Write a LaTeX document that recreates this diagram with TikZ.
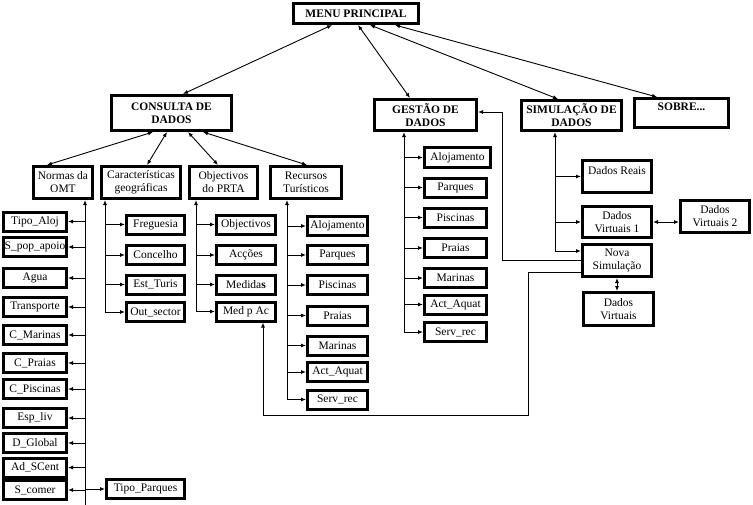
\documentclass[tikz,border=0pt]{standalone}
\usepackage{fontspec}
\setmainfont{Liberation Serif}
\usepackage{tikz}
\usetikzlibrary{arrows.meta}
\tikzstyle{headbox}=[draw,line width=3.2pt,inner sep=1pt,align=center,font=\bfseries\fontsize{11.5}{13}\selectfont]
\tikzstyle{itembox}=[draw,line width=3pt,inner sep=1pt,align=center,font=\fontsize{11.5}{13}\selectfont]
\tikzstyle{link}=[draw,line width=0.9pt,-{Latex[length=5pt,width=4pt]}]
\tikzstyle{twoway}=[draw,line width=0.9pt,{Latex[length=5pt,width=4pt]}-{Latex[length=5pt,width=4pt]}]

\begin{document}
\begin{tikzpicture}[x=1pt,y=-1pt]
    \useasboundingbox (0,0) rectangle (753,504);
    % Main menu and the menus under it
    \node[headbox,minimum width=124.8,minimum height=19.8] (menu) at (356,13.5) {MENU PRINCIPAL};
    \node[headbox,minimum width=119.8,minimum height=34.8] (consulta) at (171.5,113) {CONSULTA DE\\DADOS};
    \node[headbox,minimum width=101.8,minimum height=30.8] (gestao) at (425.5,115) {GESTÃO DE\\DADOS};
    \node[headbox,minimum width=99.8,minimum height=29.8] (simul) at (571.5,115.5) {SIMULAÇÃO DE\\DADOS};
    \node[headbox,minimum width=93.8,minimum height=28.8,text depth=12pt] (sobre) at (681.5,113) {SOBRE...};
    \path[twoway] ([xshift=-24pt]menu.south) -- ([xshift=11.5pt]consulta.north);
    \path[twoway] ([xshift=2pt]menu.south) -- ([xshift=-15.5pt]gestao.north);
    \path[twoway] ([xshift=14pt]menu.south) -- ([xshift=-13.5pt]simul.north);
    \path[twoway] ([xshift=39pt]menu.south) -- ([xshift=-24.5pt]sobre.north);

    % Consulta de dados
    \foreach \pos/\w/\name/\txt in {{(63,182.5)/59/normas/Normas da\\OMT}, {(141,182.5)/79/caract/Características\\geográficas},
        {(223.5,182.5)/68/prta/Objectivos\\do PRTA}, {(306,182.5)/71/recursos/Recursos\\Turísticos}}
        \node[itembox,minimum width=\w,minimum height=32] (\name) at \pos {\txt};
    \path[twoway] ([xshift=-18.5pt]consulta.south) -- ([xshift=-16pt]normas.north);
    \path[twoway] ([xshift=-4.5pt]consulta.south) -- ([xshift=6pt]caract.north);
    \path[twoway] ([xshift=16.5pt]consulta.south) -- ([xshift=-5.5pt]prta.north);
    \path[twoway] ([xshift=31.5pt]consulta.south) -- ([xshift=1pt]recursos.north);

    % Normas da OMT
    \foreach \y/\name/\txt in {221.5/tipoaloj/Tipo\_Aloj, 247/spop/S\_pop\_apoio, 278/agua/Agua, 307/transp/Transporte,
        335/cmar/C\_Marinas, 363/cpraias/C\_Praias, 389/cpisc/C\_Piscinas, 418/espliv/Esp\_liv, 443/dglobal/D\_Global,
        467.5/adscent/Ad\_SCent, 490/scomer/S\_comer}
        \node[itembox,minimum width=63,minimum height=19] (\name) at (35,\y) {\txt};
    \node[itembox,minimum width=78,minimum height=19] (tipoparq) at (145.5,489) {Tipo\_Parques};
    \coordinate (omt) at (85,506);
    \path[link] (omt) -- (omt |- normas.south);
    \foreach \name in {tipoaloj,spop,agua,transp,cmar,cpraias,cpisc,espliv,dglobal,adscent,scomer}
        \path[link] (omt |- \name.east) -- (\name.east);
    \path[link] (omt |- tipoparq.west) -- (tipoparq.west);

    % Caracteristicas geograficas
    \foreach \y/\name/\txt in {224.5/freg/Freguesia, 255/concelho/Concelho, 284.5/estturis/Est\_Turis, 312/outsector/Out\_sector}
        \node[itembox,minimum width=58,minimum height=19] (\name) at (155.5,\y) {\txt};
    \coordinate (geo) at (105,312);
    \path[link] (geo) -- (geo |- caract.south);
    \foreach \name in {freg,concelho,estturis,outsector}
        \path[link] (geo |- \name.west) -- (\name.west);

    % Objectivos do PRTA
    \foreach \y/\name/\txt in {224.5/objec/Objectivos, 255/accoes/Acções, 284.5/medidas/Medida\textbf{s}, 311.5/medpac/Med p Ac}
        \node[itembox,minimum width=59,minimum height=19] (\name) at (246,\y) {\txt};
    \coordinate (plano) at (196,311.5);
    \path[link] (plano) -- (plano |- prta.south);
    \foreach \name in {objec,accoes,medidas,medpac}
        \path[link] (plano |- \name.west) -- (\name.west);

    % Recursos turisticos
    \foreach \y/\name/\txt in {226/raloj/Alojamento, 255/rparq/Parques, 285/rpisc/Piscinas, 315.5/rpraias/Praias,
        345.5/rmar/Marinas, 372/ract/Act\_Aquat, 399.5/rserv/Serv\_rec}
        \node[itembox,minimum width=60,minimum height=19] (\name) at (337.5,\y) {\txt};
    \coordinate (rec) at (287,399.5);
    \path[link] (rec) -- (rec |- recursos.south);
    \foreach \name in {raloj,rparq,rpisc,rpraias,rmar,ract,rserv}
        \path[link] (rec |- \name.west) -- (\name.west);

    % Gestao de dados
    \node[itembox,minimum width=66,minimum height=20] (galoj) at (457.5,157.5) {Alojamento};
    \foreach \y/\name/\txt in {187.5/gparq/Parques, 217.5/gpisc/Piscinas, 248/gpraias/Praias,
        278/gmar/Marinas, 304.5/gact/Act\_Aquat, 332/gserv/Serv\_rec}
        \node[itembox,minimum width=62,minimum height=19] (\name) at (455.5,\y) {\txt};
    \coordinate (gest) at (404,332);
    \path[link] (gest) -- (gest |- gestao.south);
    \foreach \name in {galoj,gparq,gpisc,gpraias,gmar,gact,gserv}
        \path[link] (gest |- \name.west) -- (\name.west);

    % Simulacao de dados
    \node[itembox,minimum width=69,minimum height=32,text depth=11pt] (reais) at (617,176.5) {Dados Reais};
    \node[itembox,minimum width=69,minimum height=31] (virt1) at (617,222) {Dados\\Virtuais 1};
    \node[itembox,minimum width=69,minimum height=32] (virt2) at (715,216.5) {Dados\\Virtuais 2};
    \node[itembox,minimum width=69,minimum height=32] (nova) at (617,260.5) {Nova\\Simulação};
    \node[itembox,minimum width=70,minimum height=33] (virt) at (618.5,309) {Dados\\Virtuais};
    \coordinate (sim) at (555,251);
    \path[link] (sim) -- (sim |- simul.south);
    \path[link] (sim |- reais.west) -- (reais.west);
    \path[link] (sim |- virt1.west) -- (virt1.west);
    \path[link] (sim) -- (sim -| nova.west);
    \path[twoway] (virt1.east) -- (virt1.east -| virt2.west);
    \path[twoway] (nova.south) -- (nova.south |- virt.north);

    % Links back from Nova Simulacao
    \coordinate (gturn) at (502,112);
    \coordinate (mturn) at (528,415);
    \path[link] (nova.west) -| (gturn) -- (gturn -| gestao.east);
    \path[link] ([yshift=-11.5pt]nova.west) -| (mturn) -| ([xshift=17pt]medpac.south);
\end{tikzpicture}
\end{document}
